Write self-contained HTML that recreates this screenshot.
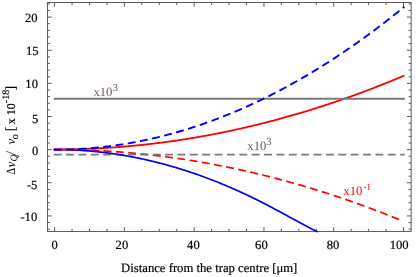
<!DOCTYPE html>
<html><head><meta charset="utf-8"><style>html,body{margin:0;padding:0;background:#fff;overflow:hidden}body{width:416px;height:277px;position:relative;font-family:"Liberation Serif",serif}</style></head><body>
<svg width="416" height="277" viewBox="0 0 416 277" style="position:absolute;left:0;top:0;will-change:transform;text-rendering:geometricPrecision">
<g stroke="#5a5a5a" stroke-width="1" fill="none">
<rect x="47.45" y="2.5" width="363.7" height="228.95"/>
<path d="M54.60,231.45 v-4.3 M54.60,2.5 v4.3 M72.05,231.45 v-2.7 M72.05,2.5 v2.7 M89.49,231.45 v-2.7 M89.49,2.5 v2.7 M106.94,231.45 v-2.7 M106.94,2.5 v2.7 M124.38,231.45 v-4.3 M124.38,2.5 v4.3 M141.82,231.45 v-2.7 M141.82,2.5 v2.7 M159.27,231.45 v-2.7 M159.27,2.5 v2.7 M176.72,231.45 v-2.7 M176.72,2.5 v2.7 M194.16,231.45 v-4.3 M194.16,2.5 v4.3 M211.60,231.45 v-2.7 M211.60,2.5 v2.7 M229.05,231.45 v-2.7 M229.05,2.5 v2.7 M246.49,231.45 v-2.7 M246.49,2.5 v2.7 M263.94,231.45 v-4.3 M263.94,2.5 v4.3 M281.38,231.45 v-2.7 M281.38,2.5 v2.7 M298.83,231.45 v-2.7 M298.83,2.5 v2.7 M316.28,231.45 v-2.7 M316.28,2.5 v2.7 M333.72,231.45 v-4.3 M333.72,2.5 v4.3 M351.17,231.45 v-2.7 M351.17,2.5 v2.7 M368.61,231.45 v-2.7 M368.61,2.5 v2.7 M386.06,231.45 v-2.7 M386.06,2.5 v2.7 M403.50,231.45 v-4.3 M403.50,2.5 v4.3 M47.45,229.19 h2.5 M411.15,229.19 h-2.5 M47.45,222.56 h2.5 M411.15,222.56 h-2.5 M47.45,215.93 h4.3 M411.15,215.93 h-4.3 M47.45,209.30 h2.5 M411.15,209.30 h-2.5 M47.45,202.67 h2.5 M411.15,202.67 h-2.5 M47.45,196.05 h2.5 M411.15,196.05 h-2.5 M47.45,189.42 h2.5 M411.15,189.42 h-2.5 M47.45,182.79 h4.3 M411.15,182.79 h-4.3 M47.45,176.16 h2.5 M411.15,176.16 h-2.5 M47.45,169.53 h2.5 M411.15,169.53 h-2.5 M47.45,162.91 h2.5 M411.15,162.91 h-2.5 M47.45,156.28 h2.5 M411.15,156.28 h-2.5 M47.45,149.65 h4.3 M411.15,149.65 h-4.3 M47.45,143.02 h2.5 M411.15,143.02 h-2.5 M47.45,136.39 h2.5 M411.15,136.39 h-2.5 M47.45,129.77 h2.5 M411.15,129.77 h-2.5 M47.45,123.14 h2.5 M411.15,123.14 h-2.5 M47.45,116.51 h4.3 M411.15,116.51 h-4.3 M47.45,109.88 h2.5 M411.15,109.88 h-2.5 M47.45,103.25 h2.5 M411.15,103.25 h-2.5 M47.45,96.63 h2.5 M411.15,96.63 h-2.5 M47.45,90.00 h2.5 M411.15,90.00 h-2.5 M47.45,83.37 h4.3 M411.15,83.37 h-4.3 M47.45,76.74 h2.5 M411.15,76.74 h-2.5 M47.45,70.11 h2.5 M411.15,70.11 h-2.5 M47.45,63.49 h2.5 M411.15,63.49 h-2.5 M47.45,56.86 h2.5 M411.15,56.86 h-2.5 M47.45,50.23 h4.3 M411.15,50.23 h-4.3 M47.45,43.60 h2.5 M411.15,43.60 h-2.5 M47.45,36.97 h2.5 M411.15,36.97 h-2.5 M47.45,30.35 h2.5 M411.15,30.35 h-2.5 M47.45,23.72 h2.5 M411.15,23.72 h-2.5 M47.45,17.09 h4.3 M411.15,17.09 h-4.3 M47.45,10.46 h2.5 M411.15,10.46 h-2.5 M47.45,3.83 h2.5 M411.15,3.83 h-2.5"/>
</g>
<defs><clipPath id="pc"><rect x="47.45" y="2.5" width="363.7" height="230.25"/></clipPath></defs>
<g fill="none" clip-path="url(#pc)">
<path d="M53.73,149.50 L54.60,149.50 L55.48,149.50 L56.35,149.50 L57.23,149.50 L58.10,149.51 L58.98,149.51 L59.85,149.52 L60.73,149.52 L61.61,149.53 L62.48,149.54 L63.36,149.55 L64.23,149.55 L65.11,149.57 L65.98,149.58 L66.86,149.59 L67.73,149.60 L68.61,149.62 L69.48,149.63 L70.36,149.65 L71.23,149.66 L72.11,149.68 L72.98,149.70 L73.86,149.72 L74.74,149.74 L75.61,149.76 L76.49,149.78 L77.36,149.81 L78.24,149.83 L79.11,149.85 L79.99,149.88 L80.86,149.91 L81.74,149.93 L82.61,149.96 L83.49,149.99 L84.36,150.02 L85.24,150.05 L86.11,150.09 L86.99,150.12 L87.86,150.15 L88.74,150.19 L89.62,150.22 L90.49,150.26 L91.37,150.30 L92.24,150.34 L93.12,150.38 L93.99,150.42 L94.87,150.46 L95.74,150.50 L96.62,150.54 L97.49,150.59 L98.37,150.63 L99.24,150.68 L100.12,150.72 L100.99,150.77 L101.87,150.82 L102.75,150.87 L103.62,150.92 L104.50,150.97 L105.37,151.02 L106.25,151.07 L107.12,151.13 L108.00,151.18 L108.87,151.24 L109.75,151.29 L110.62,151.35 L111.50,151.41 L112.37,151.47 L113.25,151.53 L114.12,151.59 L115.00,151.65 L115.87,151.71 L116.75,151.78 L117.63,151.84 L118.50,151.91 L119.38,151.97 L120.25,152.04 L121.13,152.11 L122.00,152.18 L122.88,152.25 L123.75,152.32 L124.63,152.39 L125.50,152.47 L126.38,152.54 L127.25,152.61 L128.13,152.69 L129.00,152.77 L129.88,152.84 L130.76,152.92 L131.63,153.00 L132.51,153.08 L133.38,153.16 L134.26,153.24 L135.13,153.33 L136.01,153.41 L136.88,153.49 L137.76,153.58 L138.63,153.67 L139.51,153.75 L140.38,153.84 L141.26,153.93 L142.13,154.02 L143.01,154.11 L143.88,154.20 L144.76,154.29 L145.64,154.39 L146.51,154.48 L147.39,154.58 L148.26,154.67 L149.14,154.77 L150.01,154.87 L150.89,154.97 L151.76,155.07 L152.64,155.17 L153.51,155.27 L154.39,155.37 L155.26,155.48 L156.14,155.58 L157.01,155.69 L157.89,155.79 L158.77,155.90 L159.64,156.01 L160.52,156.12 L161.39,156.23 L162.27,156.34 L163.14,156.45 L164.02,156.56 L164.89,156.68 L165.77,156.79 L166.64,156.90 L167.52,157.02 L168.39,157.14 L169.27,157.26 L170.14,157.37 L171.02,157.49 L171.89,157.62 L172.77,157.74 L173.65,157.86 L174.52,157.98 L175.40,158.11 L176.27,158.23 L177.15,158.36 L178.02,158.49 L178.90,158.61 L179.77,158.74 L180.65,158.87 L181.52,159.00 L182.40,159.13 L183.27,159.27 L184.15,159.40 L185.02,159.53 L185.90,159.67 L186.77,159.80 L187.65,159.94 L188.53,160.08 L189.40,160.22 L190.28,160.36 L191.15,160.50 L192.03,160.64 L192.90,160.78 L193.78,160.93 L194.65,161.07 L195.53,161.21 L196.40,161.36 L197.28,161.51 L198.15,161.66 L199.03,161.80 L199.90,161.95 L200.78,162.10 L201.66,162.26 L202.53,162.41 L203.41,162.56 L204.28,162.72 L205.16,162.87 L206.03,163.03 L206.91,163.18 L207.78,163.34 L208.66,163.50 L209.53,163.66 L210.41,163.82 L211.28,163.98 L212.16,164.14 L213.03,164.31 L213.91,164.47 L214.78,164.64 L215.66,164.80 L216.54,164.97 L217.41,165.14 L218.29,165.30 L219.16,165.47 L220.04,165.64 L220.91,165.82 L221.79,165.99 L222.66,166.16 L223.54,166.33 L224.41,166.51 L225.29,166.68 L226.16,166.86 L227.04,167.04 L227.91,167.22 L228.79,167.40 L229.67,167.58 L230.54,167.76 L231.42,167.94 L232.29,168.12 L233.17,168.31 L234.04,168.49 L234.92,168.68 L235.79,168.87 L236.67,169.05 L237.54,169.24 L238.42,169.43 L239.29,169.62 L240.17,169.81 L241.04,170.00 L241.92,170.20 L242.79,170.39 L243.67,170.59 L244.55,170.78 L245.42,170.98 L246.30,171.18 L247.17,171.37 L248.05,171.57 L248.92,171.77 L249.80,171.97 L250.67,172.18 L251.55,172.38 L252.42,172.58 L253.30,172.79 L254.17,172.99 L255.05,173.20 L255.92,173.41 L256.80,173.62 L257.68,173.83 L258.55,174.04 L259.43,174.25 L260.30,174.46 L261.18,174.67 L262.05,174.88 L262.93,175.10 L263.80,175.32 L264.68,175.53 L265.55,175.75 L266.43,175.97 L267.30,176.19 L268.18,176.41 L269.05,176.63 L269.93,176.85 L270.80,177.07 L271.68,177.30 L272.56,177.52 L273.43,177.75 L274.31,177.97 L275.18,178.20 L276.06,178.43 L276.93,178.66 L277.81,178.89 L278.68,179.12 L279.56,179.35 L280.43,179.58 L281.31,179.82 L282.18,180.05 L283.06,180.29 L283.93,180.52 L284.81,180.76 L285.69,181.00 L286.56,181.24 L287.44,181.48 L288.31,181.72 L289.19,181.96 L290.06,182.20 L290.94,182.45 L291.81,182.69 L292.69,182.94 L293.56,183.18 L294.44,183.43 L295.31,183.68 L296.19,183.93 L297.06,184.18 L297.94,184.43 L298.81,184.68 L299.69,184.93 L300.57,185.19 L301.44,185.44 L302.32,185.69 L303.19,185.95 L304.07,186.21 L304.94,186.47 L305.82,186.73 L306.69,186.99 L307.57,187.25 L308.44,187.51 L309.32,187.77 L310.19,188.03 L311.07,188.30 L311.94,188.56 L312.82,188.83 L313.69,189.10 L314.57,189.36 L315.45,189.63 L316.32,189.90 L317.20,190.17 L318.07,190.45 L318.95,190.72 L319.82,190.99 L320.70,191.27 L321.57,191.54 L322.45,191.82 L323.32,192.09 L324.20,192.37 L325.07,192.65 L325.95,192.93 L326.82,193.21 L327.70,193.49 L328.58,193.78 L329.45,194.06 L330.33,194.34 L331.20,194.63 L332.08,194.91 L332.95,195.20 L333.83,195.49 L334.70,195.78 L335.58,196.07 L336.45,196.36 L337.33,196.65 L338.20,196.94 L339.08,197.24 L339.95,197.53 L340.83,197.82 L341.70,198.12 L342.58,198.42 L343.46,198.72 L344.33,199.01 L345.21,199.31 L346.08,199.61 L346.96,199.92 L347.83,200.22 L348.71,200.52 L349.58,200.83 L350.46,201.13 L351.33,201.44 L352.21,201.74 L353.08,202.05 L353.96,202.36 L354.83,202.67 L355.71,202.98 L356.59,203.29 L357.46,203.60 L358.34,203.92 L359.21,204.23 L360.09,204.55 L360.96,204.86 L361.84,205.18 L362.71,205.50 L363.59,205.81 L364.46,206.13 L365.34,206.45 L366.21,206.78 L367.09,207.10 L367.96,207.42 L368.84,207.75 L369.71,208.07 L370.59,208.40 L371.47,208.72 L372.34,209.05 L373.22,209.38 L374.09,209.71 L374.97,210.04 L375.84,210.37 L376.72,210.70 L377.59,211.04 L378.47,211.37 L379.34,211.70 L380.22,212.04 L381.09,212.38 L381.97,212.71 L382.84,213.05 L383.72,213.39 L384.60,213.73 L385.47,214.07 L386.35,214.42 L387.22,214.76 L388.10,215.10 L388.97,215.45 L389.85,215.79 L390.72,216.14 L391.60,216.49 L392.47,216.84 L393.35,217.19 L394.22,217.54 L395.10,217.89 L395.97,218.24 L396.85,218.59 L397.72,218.95 L398.60,219.30 L399.48,219.66 L400.35,220.01 L401.23,220.37 L402.10,220.73 L402.98,221.09" stroke="#ff0000" stroke-width="1.7" stroke-dasharray="7.9 4.47" stroke-dashoffset="12.00"/>
<path d="M53.8,154.61 L404.80,154.61" stroke="#7a7a7a" stroke-width="1.85" stroke-dasharray="7.9 4.47"/>
<path d="M53.73,149.50 L54.39,149.50 L55.05,149.50 L55.71,149.50 L56.38,149.50 L57.04,149.51 L57.70,149.51 L58.36,149.52 L59.03,149.52 L59.69,149.53 L60.35,149.54 L61.01,149.55 L61.68,149.56 L62.34,149.57 L63.00,149.59 L63.66,149.60 L64.32,149.62 L64.99,149.63 L65.65,149.65 L66.31,149.67 L66.97,149.69 L67.64,149.71 L68.30,149.73 L68.96,149.75 L69.62,149.78 L70.29,149.80 L70.95,149.83 L71.61,149.86 L72.27,149.88 L72.93,149.91 L73.60,149.94 L74.26,149.97 L74.92,150.01 L75.58,150.04 L76.25,150.08 L76.91,150.11 L77.57,150.15 L78.23,150.19 L78.90,150.23 L79.56,150.27 L80.22,150.31 L80.88,150.35 L81.54,150.39 L82.21,150.44 L82.87,150.48 L83.53,150.53 L84.19,150.58 L84.86,150.62 L85.52,150.67 L86.18,150.73 L86.84,150.78 L87.51,150.83 L88.17,150.88 L88.83,150.94 L89.49,151.00 L90.15,151.05 L90.82,151.11 L91.48,151.17 L92.14,151.23 L92.80,151.29 L93.47,151.36 L94.13,151.42 L94.79,151.48 L95.45,151.55 L96.12,151.62 L96.78,151.69 L97.44,151.75 L98.10,151.83 L98.76,151.90 L99.43,151.97 L100.09,152.04 L100.75,152.12 L101.41,152.19 L102.08,152.27 L102.74,152.35 L103.40,152.43 L104.06,152.51 L104.72,152.59 L105.39,152.67 L106.05,152.75 L106.71,152.84 L107.37,152.92 L108.04,153.01 L108.70,153.10 L109.36,153.18 L110.02,153.27 L110.69,153.37 L111.35,153.46 L112.01,153.55 L112.67,153.64 L113.33,153.74 L114.00,153.83 L114.66,153.93 L115.32,154.03 L115.98,154.13 L116.65,154.23 L117.31,154.33 L117.97,154.43 L118.63,154.54 L119.30,154.64 L119.96,154.75 L120.62,154.86 L121.28,154.96 L121.94,155.07 L122.61,155.18 L123.27,155.29 L123.93,155.41 L124.59,155.52 L125.26,155.63 L125.92,155.75 L126.58,155.87 L127.24,155.98 L127.91,156.10 L128.57,156.22 L129.23,156.34 L129.89,156.47 L130.55,156.59 L131.22,156.71 L131.88,156.84 L132.54,156.96 L133.20,157.09 L133.87,157.22 L134.53,157.35 L135.19,157.48 L135.85,157.61 L136.52,157.74 L137.18,157.88 L137.84,158.01 L138.50,158.15 L139.16,158.29 L139.83,158.42 L140.49,158.56 L141.15,158.70 L141.81,158.85 L142.48,158.99 L143.14,159.13 L143.80,159.28 L144.46,159.42 L145.13,159.57 L145.79,159.72 L146.45,159.87 L147.11,160.02 L147.77,160.17 L148.44,160.32 L149.10,160.47 L149.76,160.63 L150.42,160.78 L151.09,160.94 L151.75,161.10 L152.41,161.25 L153.07,161.41 L153.74,161.58 L154.40,161.74 L155.06,161.90 L155.72,162.06 L156.38,162.23 L157.05,162.40 L157.71,162.56 L158.37,162.73 L159.03,162.90 L159.70,163.07 L160.36,163.24 L161.02,163.42 L161.68,163.59 L162.35,163.76 L163.01,163.94 L163.67,164.12 L164.33,164.30 L164.99,164.47 L165.66,164.65 L166.32,164.84 L166.98,165.02 L167.64,165.20 L168.31,165.39 L168.97,165.57 L169.63,165.76 L170.29,165.95 L170.95,166.13 L171.62,166.32 L172.28,166.52 L172.94,166.71 L173.60,166.90 L174.27,167.10 L174.93,167.29 L175.59,167.49 L176.25,167.68 L176.92,167.88 L177.58,168.08 L178.24,168.28 L178.90,168.49 L179.56,168.69 L180.23,168.89 L180.89,169.10 L181.55,169.30 L182.21,169.51 L182.88,169.72 L183.54,169.93 L184.20,170.14 L184.86,170.35 L185.53,170.56 L186.19,170.78 L186.85,170.99 L187.51,171.21 L188.17,171.42 L188.84,171.64 L189.50,171.86 L190.16,172.08 L190.82,172.30 L191.49,172.52 L192.15,172.75 L192.81,172.97 L193.47,173.20 L194.14,173.42 L194.80,173.65 L195.46,173.88 L196.12,174.11 L196.78,174.34 L197.45,174.57 L198.11,174.81 L198.77,175.04 L199.43,175.27 L200.10,175.51 L200.76,175.75 L201.42,175.99 L202.08,176.23 L202.75,176.47 L203.41,176.71 L204.07,176.95 L204.73,177.19 L205.39,177.44 L206.06,177.69 L206.72,177.93 L207.38,178.18 L208.04,178.43 L208.71,178.68 L209.37,178.93 L210.03,179.18 L210.69,179.44 L211.36,179.69 L212.02,179.95 L212.68,180.20 L213.34,180.46 L214.00,180.72 L214.67,180.98 L215.33,181.24 L215.99,181.50 L216.65,181.77 L217.32,182.03 L217.98,182.30 L218.64,182.56 L219.30,182.83 L219.97,183.10 L220.63,183.37 L221.29,183.64 L221.95,183.91 L222.61,184.19 L223.28,184.46 L223.94,184.73 L224.60,185.01 L225.26,185.29 L225.93,185.57 L226.59,185.85 L227.25,186.13 L227.91,186.41 L228.58,186.69 L229.24,186.97 L229.90,187.26 L230.56,187.54 L231.22,187.83 L231.89,188.12 L232.55,188.41 L233.21,188.70 L233.87,188.99 L234.54,189.28 L235.20,189.58 L235.86,189.87 L236.52,190.17 L237.19,190.46 L237.85,190.76 L238.51,191.06 L239.17,191.36 L239.83,191.66 L240.50,191.96 L241.16,192.26 L241.82,192.57 L242.48,192.87 L243.15,193.18 L243.81,193.49 L244.47,193.80 L245.13,194.11 L245.79,194.42 L246.46,194.73 L247.12,195.04 L247.78,195.35 L248.44,195.67 L249.11,195.99 L249.77,196.30 L250.43,196.62 L251.09,196.94 L251.76,197.26 L252.42,197.58 L253.08,197.90 L253.74,198.23 L254.40,198.55 L255.07,198.88 L255.73,199.21 L256.39,199.53 L257.05,199.86 L257.72,200.19 L258.38,200.52 L259.04,200.86 L259.70,201.19 L260.37,201.52 L261.03,201.86 L261.69,202.20 L262.35,202.53 L263.01,202.87 L263.68,203.21 L264.34,203.55 L265.00,203.89 L265.66,204.24 L266.33,204.58 L266.99,204.93 L267.65,205.27 L268.31,205.62 L268.98,205.97 L269.64,206.31 L270.30,206.66 L270.96,207.01 L271.62,207.36 L272.29,207.72 L272.95,208.07 L273.61,208.42 L274.27,208.78 L274.94,209.13 L275.60,209.48 L276.26,209.84 L276.92,210.20 L277.59,210.55 L278.25,210.91 L278.91,211.27 L279.57,211.62 L280.23,211.98 L280.90,212.34 L281.56,212.70 L282.22,213.06 L282.88,213.42 L283.55,213.78 L284.21,214.14 L284.87,214.50 L285.53,214.86 L286.20,215.22 L286.86,215.58 L287.52,215.94 L288.18,216.30 L288.84,216.66 L289.51,217.02 L290.17,217.38 L290.83,217.74 L291.49,218.11 L292.16,218.47 L292.82,218.83 L293.48,219.19 L294.14,219.55 L294.81,219.91 L295.47,220.26 L296.13,220.62 L296.79,220.98 L297.45,221.34 L298.12,221.70 L298.78,222.06 L299.44,222.41 L300.10,222.77 L300.77,223.13 L301.43,223.48 L302.09,223.84 L302.75,224.19 L303.42,224.54 L304.08,224.90 L304.74,225.25 L305.40,225.60 L306.06,225.95 L306.73,226.30 L307.39,226.65 L308.05,227.00 L308.71,227.35 L309.38,227.69 L310.04,228.04 L310.70,228.39 L311.36,228.73 L312.03,229.07 L312.69,229.41 L313.35,229.76 L314.01,230.10 L314.67,230.43 L315.34,230.77 L316.00,231.11 L316.66,231.44 L317.32,231.78 L317.99,232.11" stroke="#0000ff" stroke-width="1.7"/>
<path d="M53.73,149.50 L54.61,149.50 L55.49,149.50 L56.36,149.50 L57.24,149.50 L58.12,149.49 L59.00,149.49 L59.88,149.48 L60.76,149.48 L61.64,149.47 L62.52,149.46 L63.39,149.45 L64.27,149.44 L65.15,149.43 L66.03,149.42 L66.91,149.41 L67.79,149.39 L68.67,149.38 L69.55,149.36 L70.43,149.35 L71.30,149.33 L72.18,149.31 L73.06,149.29 L73.94,149.27 L74.82,149.25 L75.70,149.23 L76.58,149.21 L77.46,149.18 L78.33,149.16 L79.21,149.13 L80.09,149.11 L80.97,149.08 L81.85,149.05 L82.73,149.02 L83.61,148.99 L84.49,148.96 L85.36,148.93 L86.24,148.89 L87.12,148.86 L88.00,148.83 L88.88,148.79 L89.76,148.75 L90.64,148.71 L91.52,148.68 L92.40,148.64 L93.27,148.60 L94.15,148.55 L95.03,148.51 L95.91,148.47 L96.79,148.42 L97.67,148.38 L98.55,148.33 L99.43,148.29 L100.30,148.24 L101.18,148.19 L102.06,148.14 L102.94,148.09 L103.82,148.04 L104.70,147.98 L105.58,147.93 L106.46,147.87 L107.34,147.82 L108.21,147.76 L109.09,147.70 L109.97,147.65 L110.85,147.59 L111.73,147.53 L112.61,147.47 L113.49,147.40 L114.37,147.34 L115.24,147.28 L116.12,147.21 L117.00,147.15 L117.88,147.08 L118.76,147.01 L119.64,146.94 L120.52,146.87 L121.40,146.80 L122.27,146.73 L123.15,146.66 L124.03,146.59 L124.91,146.51 L125.79,146.44 L126.67,146.36 L127.55,146.28 L128.43,146.20 L129.31,146.13 L130.18,146.05 L131.06,145.97 L131.94,145.88 L132.82,145.80 L133.70,145.72 L134.58,145.63 L135.46,145.55 L136.34,145.46 L137.21,145.37 L138.09,145.29 L138.97,145.20 L139.85,145.11 L140.73,145.02 L141.61,144.92 L142.49,144.83 L143.37,144.74 L144.25,144.64 L145.12,144.55 L146.00,144.45 L146.88,144.35 L147.76,144.25 L148.64,144.15 L149.52,144.05 L150.40,143.95 L151.28,143.85 L152.15,143.75 L153.03,143.64 L153.91,143.54 L154.79,143.43 L155.67,143.32 L156.55,143.22 L157.43,143.11 L158.31,143.00 L159.18,142.89 L160.06,142.78 L160.94,142.66 L161.82,142.55 L162.70,142.44 L163.58,142.32 L164.46,142.20 L165.34,142.09 L166.22,141.97 L167.09,141.85 L167.97,141.73 L168.85,141.61 L169.73,141.49 L170.61,141.36 L171.49,141.24 L172.37,141.12 L173.25,140.99 L174.12,140.86 L175.00,140.74 L175.88,140.61 L176.76,140.48 L177.64,140.35 L178.52,140.22 L179.40,140.08 L180.28,139.95 L181.15,139.82 L182.03,139.68 L182.91,139.55 L183.79,139.41 L184.67,139.27 L185.55,139.13 L186.43,138.99 L187.31,138.85 L188.19,138.71 L189.06,138.57 L189.94,138.43 L190.82,138.28 L191.70,138.14 L192.58,137.99 L193.46,137.84 L194.34,137.70 L195.22,137.55 L196.09,137.40 L196.97,137.25 L197.85,137.09 L198.73,136.94 L199.61,136.79 L200.49,136.63 L201.37,136.48 L202.25,136.32 L203.13,136.16 L204.00,136.01 L204.88,135.85 L205.76,135.69 L206.64,135.52 L207.52,135.36 L208.40,135.20 L209.28,135.04 L210.16,134.87 L211.03,134.71 L211.91,134.54 L212.79,134.37 L213.67,134.20 L214.55,134.03 L215.43,133.86 L216.31,133.69 L217.19,133.52 L218.06,133.35 L218.94,133.17 L219.82,133.00 L220.70,132.82 L221.58,132.64 L222.46,132.47 L223.34,132.29 L224.22,132.11 L225.10,131.93 L225.97,131.74 L226.85,131.56 L227.73,131.38 L228.61,131.19 L229.49,131.01 L230.37,130.82 L231.25,130.64 L232.13,130.45 L233.00,130.26 L233.88,130.07 L234.76,129.88 L235.64,129.69 L236.52,129.49 L237.40,129.30 L238.28,129.10 L239.16,128.91 L240.04,128.71 L240.91,128.51 L241.79,128.32 L242.67,128.12 L243.55,127.92 L244.43,127.71 L245.31,127.51 L246.19,127.31 L247.07,127.11 L247.94,126.90 L248.82,126.69 L249.70,126.49 L250.58,126.28 L251.46,126.07 L252.34,125.86 L253.22,125.65 L254.10,125.44 L254.97,125.23 L255.85,125.01 L256.73,124.80 L257.61,124.58 L258.49,124.37 L259.37,124.15 L260.25,123.93 L261.13,123.71 L262.01,123.49 L262.88,123.27 L263.76,123.05 L264.64,122.83 L265.52,122.60 L266.40,122.38 L267.28,122.15 L268.16,121.93 L269.04,121.70 L269.91,121.47 L270.79,121.24 L271.67,121.01 L272.55,120.78 L273.43,120.55 L274.31,120.32 L275.19,120.08 L276.07,119.85 L276.95,119.61 L277.82,119.38 L278.70,119.14 L279.58,118.90 L280.46,118.66 L281.34,118.42 L282.22,118.18 L283.10,117.94 L283.98,117.69 L284.85,117.45 L285.73,117.20 L286.61,116.96 L287.49,116.71 L288.37,116.46 L289.25,116.21 L290.13,115.96 L291.01,115.71 L291.88,115.46 L292.76,115.21 L293.64,114.96 L294.52,114.70 L295.40,114.45 L296.28,114.19 L297.16,113.93 L298.04,113.67 L298.92,113.41 L299.79,113.15 L300.67,112.89 L301.55,112.63 L302.43,112.37 L303.31,112.10 L304.19,111.84 L305.07,111.57 L305.95,111.31 L306.82,111.04 L307.70,110.77 L308.58,110.50 L309.46,110.23 L310.34,109.96 L311.22,109.69 L312.10,109.42 L312.98,109.14 L313.85,108.87 L314.73,108.59 L315.61,108.31 L316.49,108.04 L317.37,107.76 L318.25,107.48 L319.13,107.20 L320.01,106.91 L320.89,106.63 L321.76,106.35 L322.64,106.06 L323.52,105.78 L324.40,105.49 L325.28,105.21 L326.16,104.92 L327.04,104.63 L327.92,104.34 L328.79,104.05 L329.67,103.76 L330.55,103.46 L331.43,103.17 L332.31,102.88 L333.19,102.58 L334.07,102.28 L334.95,101.99 L335.83,101.69 L336.70,101.39 L337.58,101.09 L338.46,100.79 L339.34,100.48 L340.22,100.18 L341.10,99.88 L341.98,99.57 L342.86,99.27 L343.73,98.96 L344.61,98.65 L345.49,98.34 L346.37,98.03 L347.25,97.72 L348.13,97.41 L349.01,97.10 L349.89,96.79 L350.76,96.47 L351.64,96.16 L352.52,95.84 L353.40,95.52 L354.28,95.21 L355.16,94.89 L356.04,94.57 L356.92,94.25 L357.80,93.92 L358.67,93.60 L359.55,93.28 L360.43,92.95 L361.31,92.63 L362.19,92.30 L363.07,91.98 L363.95,91.65 L364.83,91.32 L365.70,90.99 L366.58,90.66 L367.46,90.32 L368.34,89.99 L369.22,89.66 L370.10,89.32 L370.98,88.99 L371.86,88.65 L372.74,88.31 L373.61,87.97 L374.49,87.64 L375.37,87.29 L376.25,86.95 L377.13,86.61 L378.01,86.27 L378.89,85.92 L379.77,85.58 L380.64,85.23 L381.52,84.89 L382.40,84.54 L383.28,84.19 L384.16,83.84 L385.04,83.49 L385.92,83.14 L386.80,82.78 L387.67,82.43 L388.55,82.08 L389.43,81.72 L390.31,81.37 L391.19,81.01 L392.07,80.65 L392.95,80.29 L393.83,79.93 L394.71,79.57 L395.58,79.21 L396.46,78.85 L397.34,78.48 L398.22,78.12 L399.10,77.75 L399.98,77.39 L400.86,77.02 L401.74,76.65 L402.61,76.28 L403.49,75.91 L404.37,75.54" stroke="#ff0000" stroke-width="1.8"/>
<path d="M53.70,98.85 L404.80,98.85" stroke="#7a7a7a" stroke-width="2"/>
<path d="M53.73,149.70 L54.61,149.70 L55.49,149.70 L56.36,149.70 L57.24,149.69 L58.12,149.69 L59.00,149.68 L59.88,149.67 L60.76,149.66 L61.64,149.64 L62.52,149.63 L63.39,149.61 L64.27,149.59 L65.15,149.57 L66.03,149.55 L66.91,149.52 L67.79,149.50 L68.67,149.47 L69.55,149.44 L70.43,149.41 L71.30,149.37 L72.18,149.34 L73.06,149.30 L73.94,149.26 L74.82,149.22 L75.70,149.18 L76.58,149.14 L77.46,149.09 L78.33,149.04 L79.21,148.99 L80.09,148.94 L80.97,148.89 L81.85,148.83 L82.73,148.78 L83.61,148.72 L84.49,148.66 L85.36,148.59 L86.24,148.53 L87.12,148.46 L88.00,148.40 L88.88,148.33 L89.76,148.26 L90.64,148.18 L91.52,148.11 L92.40,148.03 L93.27,147.95 L94.15,147.87 L95.03,147.79 L95.91,147.71 L96.79,147.62 L97.67,147.53 L98.55,147.44 L99.43,147.35 L100.30,147.26 L101.18,147.16 L102.06,147.07 L102.94,146.97 L103.82,146.87 L104.70,146.77 L105.58,146.66 L106.46,146.56 L107.34,146.45 L108.21,146.34 L109.09,146.23 L109.97,146.12 L110.85,146.00 L111.73,145.89 L112.61,145.77 L113.49,145.65 L114.37,145.53 L115.24,145.40 L116.12,145.28 L117.00,145.15 L117.88,145.02 L118.76,144.89 L119.64,144.76 L120.52,144.62 L121.40,144.49 L122.27,144.35 L123.15,144.21 L124.03,144.07 L124.91,143.92 L125.79,143.78 L126.67,143.63 L127.55,143.48 L128.43,143.33 L129.31,143.18 L130.18,143.03 L131.06,142.87 L131.94,142.71 L132.82,142.55 L133.70,142.39 L134.58,142.23 L135.46,142.06 L136.34,141.90 L137.21,141.73 L138.09,141.56 L138.97,141.38 L139.85,141.21 L140.73,141.03 L141.61,140.86 L142.49,140.68 L143.37,140.49 L144.25,140.31 L145.12,140.13 L146.00,139.94 L146.88,139.75 L147.76,139.56 L148.64,139.37 L149.52,139.17 L150.40,138.98 L151.28,138.78 L152.15,138.58 L153.03,138.38 L153.91,138.18 L154.79,137.97 L155.67,137.77 L156.55,137.56 L157.43,137.35 L158.31,137.14 L159.18,136.92 L160.06,136.71 L160.94,136.49 L161.82,136.27 L162.70,136.05 L163.58,135.83 L164.46,135.60 L165.34,135.37 L166.22,135.15 L167.09,134.92 L167.97,134.68 L168.85,134.45 L169.73,134.21 L170.61,133.98 L171.49,133.74 L172.37,133.50 L173.25,133.25 L174.12,133.01 L175.00,132.76 L175.88,132.52 L176.76,132.27 L177.64,132.01 L178.52,131.76 L179.40,131.51 L180.28,131.25 L181.15,130.99 L182.03,130.73 L182.91,130.47 L183.79,130.20 L184.67,129.94 L185.55,129.67 L186.43,129.40 L187.31,129.13 L188.19,128.85 L189.06,128.58 L189.94,128.30 L190.82,128.02 L191.70,127.74 L192.58,127.46 L193.46,127.17 L194.34,126.89 L195.22,126.60 L196.09,126.31 L196.97,126.02 L197.85,125.73 L198.73,125.43 L199.61,125.13 L200.49,124.84 L201.37,124.53 L202.25,124.23 L203.13,123.93 L204.00,123.62 L204.88,123.31 L205.76,123.01 L206.64,122.69 L207.52,122.38 L208.40,122.07 L209.28,121.75 L210.16,121.43 L211.03,121.11 L211.91,120.79 L212.79,120.46 L213.67,120.14 L214.55,119.81 L215.43,119.48 L216.31,119.15 L217.19,118.82 L218.06,118.48 L218.94,118.15 L219.82,117.81 L220.70,117.47 L221.58,117.13 L222.46,116.78 L223.34,116.44 L224.22,116.09 L225.10,115.74 L225.97,115.39 L226.85,115.04 L227.73,114.68 L228.61,114.33 L229.49,113.97 L230.37,113.61 L231.25,113.25 L232.13,112.88 L233.00,112.52 L233.88,112.15 L234.76,111.78 L235.64,111.41 L236.52,111.04 L237.40,110.66 L238.28,110.29 L239.16,109.91 L240.04,109.53 L240.91,109.15 L241.79,108.76 L242.67,108.38 L243.55,107.99 L244.43,107.60 L245.31,107.21 L246.19,106.82 L247.07,106.42 L247.94,106.03 L248.82,105.63 L249.70,105.23 L250.58,104.83 L251.46,104.43 L252.34,104.02 L253.22,103.61 L254.10,103.20 L254.97,102.79 L255.85,102.38 L256.73,101.97 L257.61,101.55 L258.49,101.13 L259.37,100.71 L260.25,100.29 L261.13,99.87 L262.01,99.45 L262.88,99.02 L263.76,98.59 L264.64,98.16 L265.52,97.73 L266.40,97.29 L267.28,96.86 L268.16,96.42 L269.04,95.98 L269.91,95.54 L270.79,95.10 L271.67,94.65 L272.55,94.20 L273.43,93.76 L274.31,93.31 L275.19,92.85 L276.07,92.40 L276.95,91.94 L277.82,91.49 L278.70,91.03 L279.58,90.57 L280.46,90.10 L281.34,89.64 L282.22,89.17 L283.10,88.70 L283.98,88.23 L284.85,87.76 L285.73,87.29 L286.61,86.81 L287.49,86.34 L288.37,85.86 L289.25,85.38 L290.13,84.89 L291.01,84.41 L291.88,83.92 L292.76,83.43 L293.64,82.94 L294.52,82.45 L295.40,81.96 L296.28,81.46 L297.16,80.97 L298.04,80.47 L298.92,79.97 L299.79,79.46 L300.67,78.96 L301.55,78.45 L302.43,77.95 L303.31,77.44 L304.19,76.92 L305.07,76.41 L305.95,75.90 L306.82,75.38 L307.70,74.86 L308.58,74.34 L309.46,73.82 L310.34,73.29 L311.22,72.77 L312.10,72.24 L312.98,71.71 L313.85,71.18 L314.73,70.64 L315.61,70.11 L316.49,69.57 L317.37,69.03 L318.25,68.49 L319.13,67.95 L320.01,67.41 L320.89,66.86 L321.76,66.31 L322.64,65.76 L323.52,65.21 L324.40,64.66 L325.28,64.10 L326.16,63.55 L327.04,62.99 L327.92,62.43 L328.79,61.87 L329.67,61.30 L330.55,60.74 L331.43,60.17 L332.31,59.60 L333.19,59.03 L334.07,58.46 L334.95,57.88 L335.83,57.31 L336.70,56.73 L337.58,56.15 L338.46,55.56 L339.34,54.98 L340.22,54.40 L341.10,53.81 L341.98,53.22 L342.86,52.63 L343.73,52.04 L344.61,51.44 L345.49,50.84 L346.37,50.25 L347.25,49.65 L348.13,49.04 L349.01,48.44 L349.89,47.83 L350.76,47.23 L351.64,46.62 L352.52,46.01 L353.40,45.40 L354.28,44.78 L355.16,44.16 L356.04,43.55 L356.92,42.93 L357.80,42.30 L358.67,41.68 L359.55,41.06 L360.43,40.43 L361.31,39.80 L362.19,39.17 L363.07,38.54 L363.95,37.90 L364.83,37.27 L365.70,36.63 L366.58,35.99 L367.46,35.35 L368.34,34.70 L369.22,34.06 L370.10,33.41 L370.98,32.76 L371.86,32.11 L372.74,31.46 L373.61,30.81 L374.49,30.15 L375.37,29.49 L376.25,28.83 L377.13,28.17 L378.01,27.51 L378.89,26.84 L379.77,26.18 L380.64,25.51 L381.52,24.84 L382.40,24.17 L383.28,23.49 L384.16,22.82 L385.04,22.14 L385.92,21.46 L386.80,20.78 L387.67,20.09 L388.55,19.41 L389.43,18.72 L390.31,18.03 L391.19,17.34 L392.07,16.65 L392.95,15.96 L393.83,15.26 L394.71,14.57 L395.58,13.87 L396.46,13.17 L397.34,12.46 L398.22,11.76 L399.10,11.05 L399.98,10.34 L400.86,9.63 L401.74,8.92 L402.61,8.21 L403.49,7.49 L404.37,6.77" stroke="#0000ff" stroke-width="1.9" stroke-dasharray="7.9 4.500"/>
</g>
<g font-family="Liberation Serif, serif" font-size="12.6px" fill="#000" stroke="#000" stroke-width="0.2">
<text x="37.5" y="22.09" text-anchor="end">20</text>
<text x="38.5" y="55.23" text-anchor="end">15</text>
<text x="37.95" y="88.27" text-anchor="end">10</text>
<text x="38.2" y="122.81" text-anchor="end">5</text>
<text x="38.2" y="154.65" text-anchor="end">0</text>
<text x="37.4" y="189.19" text-anchor="end">-5</text>
<text x="37.2" y="220.73" text-anchor="end">-10</text>
<text x="54.7" y="249.4" text-anchor="middle">0</text>
<text x="121.9" y="249.4" text-anchor="middle">20</text>
<text x="193.4" y="249.4" text-anchor="middle">40</text>
<text x="261.4" y="249.4" text-anchor="middle">60</text>
<text x="333.0" y="249.4" text-anchor="middle">80</text>
<text x="399.2" y="249.4" text-anchor="middle">100</text>
<text x="121.1" y="271.9" font-size="12.7px">Distance from the trap centre [&#956;m]</text>
</g>
<g font-family="Liberation Serif, serif" font-size="12.7px">
<text x="93.4" y="95.6" fill="#6b5b53">x10<tspan font-size="10.8px" dy="-5.0" dx="0">3</tspan></text>
<text x="247.3" y="150.4" fill="#6b5b53">x10<tspan font-size="10.8px" dy="-5.2" dx="0">3</tspan></text>
<text x="343.3" y="194.8" fill="#ff0000">x10<tspan font-size="9.6px" dy="-5.0" dx="0.8">-1</tspan></text>
</g>
<g font-family="Liberation Serif, serif" font-size="12px" fill="#000" stroke="#000" stroke-width="0.15" transform="translate(14.8,174.5) rotate(-90)">
<text x="-0.2" y="0.2" font-size="12.6px" textLength="7.0" lengthAdjust="spacingAndGlyphs" stroke="none">&#916;</text>
<text x="7.0" y="0" font-style="italic" font-size="13.2px" stroke="none">&#957;</text>
<text x="12.9" y="1.7" font-size="9.8px" font-style="italic" stroke="none">Q</text>
<path d="M17.9,4.7 L23.3,-8.7" stroke="#222" stroke-width="0.7" fill="none"/>
<text x="30.0" y="0" font-style="italic" font-size="13px" stroke="none">&#957;</text>
<text x="35.3" y="2.7" font-size="10px">o</text>
<text x="43.2" y="0.5" font-size="14px">[</text>
<text x="50.3" y="0">x</text>
<text x="59.2" y="0">10</text>
<text x="71.3" y="-5.9" font-size="10px">-18</text>
<text x="83.9" y="0.5" font-size="14px">]</text>
</g>
</svg>
</body></html>
